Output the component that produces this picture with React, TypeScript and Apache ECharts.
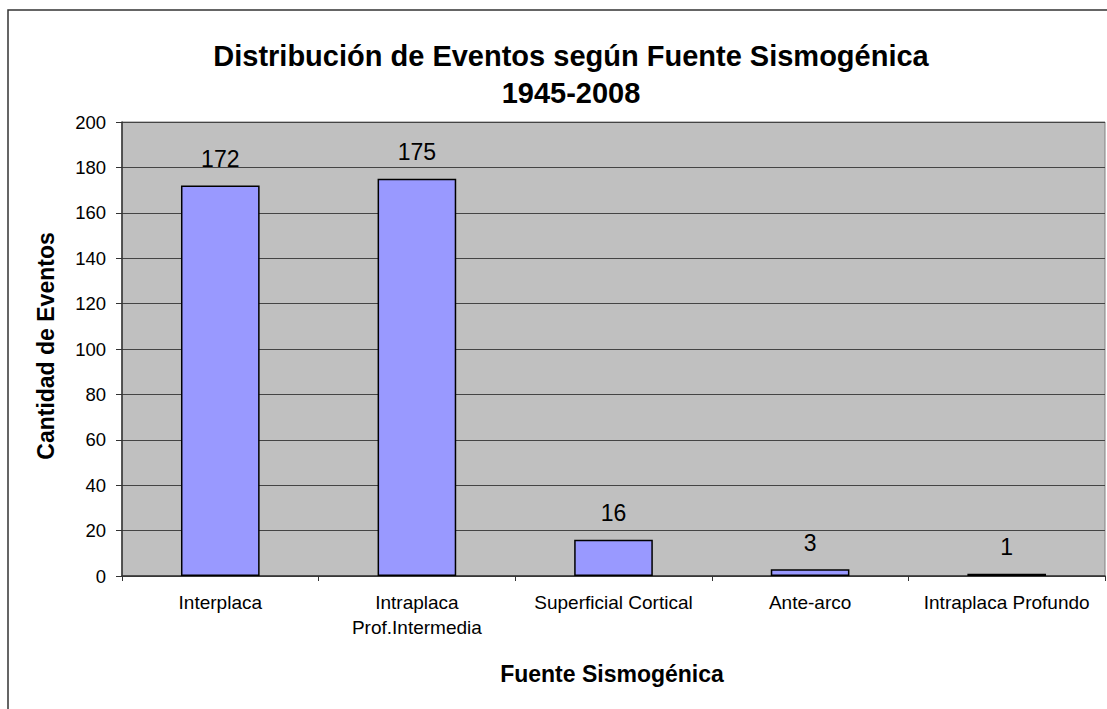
import React, { useEffect, useRef } from "react";
import * as echarts from "echarts";

const categories = ["Interplaca", "Intraplaca\nProf.Intermedia", "Superficial Cortical", "Ante-arco", "Intraplaca Profundo"];
const values = [172, 175, 16, 3, 1];
const titleText = "Distribución de Eventos según Fuente Sismogénica\n1945-2008";
const yAxisName = "Cantidad de Eventos";
const xAxisName = "Fuente Sismogénica";

const FONT = "'Liberation Sans', Arial, sans-serif";

export default function App() {
  const ref = useRef<HTMLDivElement>(null);
  useEffect(() => {
    if (!ref.current) return;
    const chart = echarts.init(ref.current, null, { renderer: "svg" });
    chart.setOption({
      animation: false,
      backgroundColor: "#ffffff",
      textStyle: { fontFamily: FONT },
      title: {
        text: titleText,
        left: 566,
        top: 32,
        textAlign: "center",
        textStyle: { fontFamily: FONT, fontSize: 29, fontWeight: "bold", color: "#000", lineHeight: 37 },
      },
      graphic: [
        {
          type: "rect",
          shape: { x: 8, y: 10, width: 1115, height: 720 },
          style: { fill: "none", stroke: "#333", lineWidth: 1.5 },
          silent: true,
          z: 100,
        },
        {
          type: "text",
          x: 612,
          y: 674,
          style: { text: xAxisName, fontFamily: FONT, fontSize: 23, fontWeight: "bold", fill: "#000", align: "center", verticalAlign: "middle" },
        },
        {
          type: "text",
          x: 46,
          y: 346,
          rotation: Math.PI / 2,
          style: { text: yAxisName, fontFamily: FONT, fontSize: 23, fontWeight: "bold", fill: "#000", align: "center", verticalAlign: "middle" },
        },
      ],
      grid: {
        left: 122,
        top: 122,
        right: 2,
        bottom: 133,
        show: true,
        backgroundColor: "#C0C0C0",
        borderColor: "#808080",
        borderWidth: 1,
      },
      xAxis: {
        type: "category",
        data: categories,
        axisLine: { lineStyle: { color: "#333", width: 1.5 } },
        axisTick: { show: true, length: 5, lineStyle: { color: "#333" } },
        axisLabel: { interval: 0, hideOverlap: false, fontFamily: FONT, fontSize: 19, color: "#000", margin: 14, lineHeight: 25 },
      },
      yAxis: {
        type: "value",
        min: 0,
        max: 200,
        interval: 20,
        axisLine: { show: true, lineStyle: { color: "#333", width: 1.5 } },
        axisTick: { show: true, length: 6, lineStyle: { color: "#333" } },
        axisLabel: { fontFamily: FONT, fontSize: 18.5, color: "#000", margin: 16 },
        splitLine: { show: true, lineStyle: { color: "#444", width: 1 } },
      },
      series: [
        {
          type: "bar",
          data: values,
          barWidth: "40%",
          itemStyle: { color: "#9999FF", borderColor: "#000", borderWidth: 1.5 },
          label: {
            show: true,
            position: "top",
            distance: 15,
            fontFamily: FONT,
            fontSize: 23,
            color: "#000",
          },
        },
      ],
    });
    return () => chart.dispose();
  }, []);
  return <div ref={ref} style={{ position: "fixed", left: 0, top: 0, width: 1107, height: 709 }} />;
}
